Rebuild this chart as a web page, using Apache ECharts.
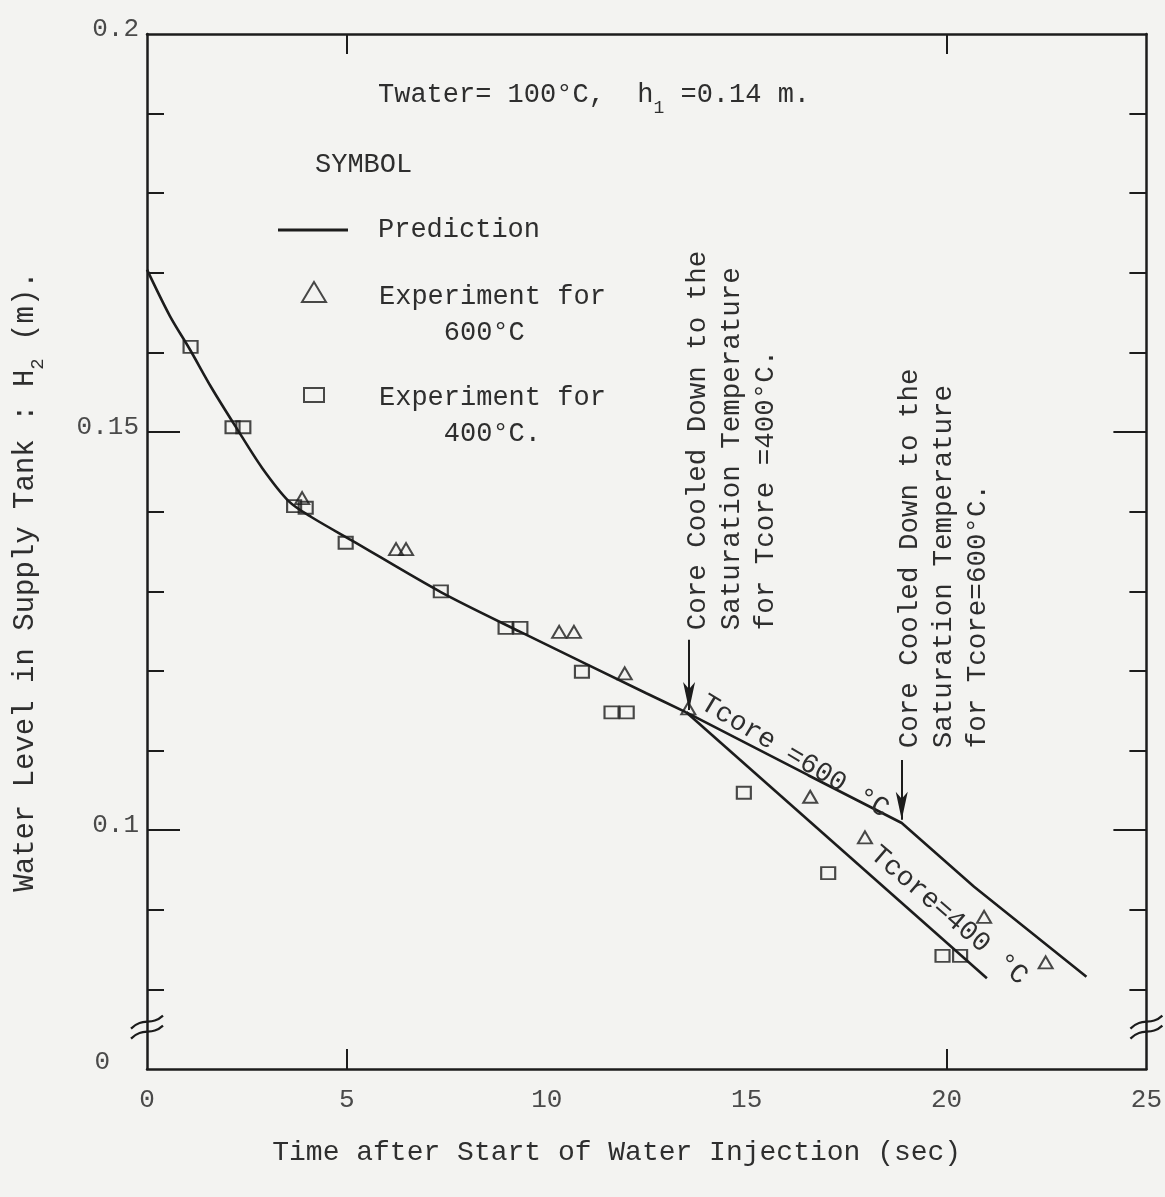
<!DOCTYPE html>
<html>
<head>
<meta charset="utf-8">
<script src="https://cdn.jsdelivr.net/npm/echarts@6/dist/echarts.min.js"></script>
<style>
html,body{margin:0;padding:0;background:#f3f3f1;}
#c{width:1165px;height:1197px;}
</style>
</head>
<body>
<div id="c"></div>
<script>
// ---------- data ----------
const xTickValues = [5, 20];
const yLabelValues = [0.07, 0.1, 0.15, 0.2];
const yLongTicks = [0.1, 0.15];
const yShortTicks = [0.08, 0.09, 0.11, 0.12, 0.13, 0.14, 0.16, 0.17, 0.18, 0.19];

const predictionMain = [[0,0.1704],[0.57,0.1646],[1.07,0.1604],[1.61,0.1556],[2.24,0.1505],[2.88,0.1455],[3.55,0.1413],[4.12,0.1393],[5.12,0.1364],[7.35,0.1299],[9.34,0.1249],[12.49,0.1172],[13.49,0.1148]];
const prediction600 = [[13.49,0.1148],[16.54,0.1069],[18.88,0.1009],[20.69,0.0929],[23.50,0.0816]];
const prediction400 = [[13.49,0.1148],[21.01,0.0814]];

const exp600 = [[3.88,0.1417],[6.23,0.1353],[6.48,0.1353],[10.31,0.1249],[10.68,0.1249],[11.95,0.1197],[13.54,0.1153],[16.59,0.1042],[17.96,0.0991],[20.94,0.0891],[22.48,0.0834]];
const exp400 = [[1.09,0.1607],[2.14,0.1506],[2.41,0.1506],[3.68,0.1407],[3.97,0.1405],[4.97,0.1361],[7.35,0.1300],[8.97,0.1254],[9.34,0.1254],[10.88,0.1199],[11.62,0.1148],[12.00,0.1148],[14.93,0.1047],[17.04,0.0946],[19.90,0.0842],[20.34,0.0842]];

// arrows: [x, yStart, yTip]
const arrows = [[13.56, 0.1239, 0.1151], [18.88, 0.1088, 0.1013]];

// ---------- style ----------
const FONT = '"Liberation Mono","Courier New",monospace';
const INK = '#1c1c1c';
const TXT = '#2e2e2e';
const NUM = '#4a4a4a';
const BG = '#f3f3f1';

const chart = echarts.init(document.getElementById('c'), null, {renderer: 'canvas'});

const mainRich = {
  a: {fontFamily: FONT, fontSize: 27, fontWeight: 'normal', color: TXT, lineHeight: 44},
  s: {fontFamily: FONT, fontSize: 18, fontWeight: 'normal', color: TXT, lineHeight: 18, verticalAlign: 'bottom'}
};
const nameRich = {
  a: {fontFamily: FONT, fontSize: 29, color: TXT, lineHeight: 44},
  s: {fontFamily: FONT, fontSize: 19, color: TXT, lineHeight: 18, verticalAlign: 'bottom'}
};
function legendRich(blank) {
  return {
    e: {fontFamily: FONT, fontSize: 10, lineHeight: blank, color: TXT},
    a: {fontFamily: FONT, fontSize: 27, lineHeight: 36, color: TXT}
  };
}

const axisLineStyle = {color: INK, width: 2.5};

function yAxisBase(pos) {
  return {
    type: 'value', min: 0.07, max: 0.2, position: pos,
    splitLine: {show: false},
    axisLine: {show: true, lineStyle: axisLineStyle},
    axisLabel: {show: false}
  };
}

const option = {
  backgroundColor: BG,
  animation: false,
  textStyle: {fontFamily: FONT},
  grid: {left: 147, right: 12, top: 34, bottom: 128},
  title: [
    {
      text: '{a|Twater= 100°C,  h}{s|1}{a| =0.14 m.}',
      left: 378, top: 73, padding: 0,
      textStyle: {fontWeight: 'normal', rich: mainRich}
    },
    {
      text: 'SYMBOL', left: 315, top: 148, padding: 0,
      textStyle: {fontFamily: FONT, fontSize: 27, fontWeight: 'normal', color: TXT, lineHeight: 34}
    }
  ],
  legend: [
    {
      data: [{name: 'Prediction', icon: 'path://M0,0H70V3H0Z',
              itemStyle: {color: INK, borderWidth: 0}}],
      left: 278, top: 212, padding: 0, itemWidth: 70, itemHeight: 20, selectedMode: false,
      textStyle: {fontFamily: FONT, fontSize: 27, color: TXT, lineHeight: 36, padding: [0, 0, 0, 25]}
    },
    {
      data: [{name: 'Experiment for 600°C', icon: 'path://M12,0L24,20L0,20Z',
              itemStyle: {color: 'transparent', borderColor: INK, borderWidth: 2}}],
      left: 301, top: 251, padding: 0, itemWidth: 70, itemHeight: 20, selectedMode: false,
      formatter: () => '{e| }\n{a|Experiment for}\n{a|    600°C}',
      textStyle: {fontFamily: FONT, fontSize: 27, color: TXT, padding: [0, 0, 0, 25], rich: legendRich(46)}
    },
    {
      data: [{name: 'Experiment for 400°C.', icon: 'path://M0,0H20V14H0Z',
              itemStyle: {color: 'transparent', borderColor: INK, borderWidth: 2}}],
      left: 303, top: 354, padding: 0, itemWidth: 70, itemHeight: 14, selectedMode: false,
      formatter: () => '{e| }\n{a|Experiment for}\n{a|    400°C.}',
      textStyle: {fontFamily: FONT, fontSize: 27, color: TXT, padding: [0, 0, 0, 25], rich: legendRich(42)}
    }
  ],
  xAxis: [
    {
      type: 'value', min: 0, max: 25, interval: 5, position: 'bottom',
      splitLine: {show: false},
      axisLine: {lineStyle: axisLineStyle},
      axisTick: {inside: true, length: 20, customValues: xTickValues, lineStyle: {color: INK, width: 2}},
      axisLabel: {fontFamily: FONT, fontSize: 26, color: NUM, margin: 18},
      name: 'Time after Start of Water Injection (sec)',
      nameLocation: 'middle', nameGap: 67,
      nameTextStyle: {fontFamily: FONT, fontSize: 28, color: TXT, lineHeight: 34, padding: [0, 60, 0, 0]}
    },
    {
      type: 'value', min: 0, max: 25, interval: 5, position: 'top',
      splitLine: {show: false},
      axisLine: {lineStyle: axisLineStyle},
      axisTick: {inside: true, length: 20, customValues: xTickValues, lineStyle: {color: INK, width: 2}},
      axisLabel: {show: false}
    }
  ],
  yAxis: [
    Object.assign(yAxisBase('left'), {
      axisTick: {inside: true, length: 33, customValues: yLongTicks, lineStyle: {color: INK, width: 2}},
      axisLabel: {
        show: true, customValues: yLabelValues, fontFamily: FONT, fontSize: 26, color: NUM, margin: 8,
        formatter: v => (v < 0.075 ? '{z|0}' : '{n|' + String(+v.toFixed(2)) + '}'),
        rich: {
          z: {fontFamily: FONT, fontSize: 26, color: NUM, padding: [0, 29, 14, 0]},
          n: {fontFamily: FONT, fontSize: 26, color: NUM, padding: [0, 0, 10, 0]}
        }
      },
      name: '{a|Water Level in Supply Tank : H}{s|2}{a| (m).}',
      nameLocation: 'middle', nameGap: 100,
      nameTextStyle: {rich: nameRich, padding: [0, 60, 0, 0]}
    }),
    Object.assign(yAxisBase('left'), {
      axisLine: {show: false},
      axisTick: {inside: true, length: 17, customValues: yShortTicks, lineStyle: {color: INK, width: 2}}
    }),
    Object.assign(yAxisBase('right'), {
      axisTick: {inside: true, length: 33, customValues: yLongTicks, lineStyle: {color: INK, width: 2}}
    }),
    Object.assign(yAxisBase('right'), {
      axisLine: {show: false},
      axisTick: {inside: true, length: 17, customValues: yShortTicks, lineStyle: {color: INK, width: 2}}
    })
  ],
  series: [
    {
      name: 'Prediction', type: 'line', data: predictionMain, smooth: 0.3,
      symbol: 'none', lineStyle: {color: INK, width: 2.6}, itemStyle: {color: INK}, z: 2
    },
    {
      name: 'Prediction', type: 'line', data: prediction600,
      symbol: 'none', lineStyle: {color: INK, width: 2.6}, itemStyle: {color: INK}, z: 2
    },
    {
      name: 'Prediction', type: 'line', data: prediction400,
      symbol: 'none', lineStyle: {color: INK, width: 2.6}, itemStyle: {color: INK}, z: 2,
      markLine: {
        silent: true, animation: false,
        label: {show: false},
        lineStyle: {color: INK, width: 2, type: 'solid'},
        symbol: ['none', 'arrow'],
        data: arrows.map(a => [
          {coord: [a[0], a[1]], symbol: 'none'},
          {coord: [a[0], a[2]], symbol: 'arrow', symbolSize: [9, 28]}
        ])
      }
    },
    {
      name: 'Experiment for 600°C', type: 'scatter', data: exp600,
      symbol: 'triangle', symbolSize: [14, 12],
      itemStyle: {color: 'transparent', borderColor: INK, borderWidth: 2}, z: 3
    },
    {
      name: 'Experiment for 400°C.', type: 'scatter', data: exp400,
      symbol: 'rect', symbolSize: [14, 12],
      itemStyle: {color: 'transparent', borderColor: INK, borderWidth: 2}, z: 3
    }
  ]
};

chart.setOption(option);

// ---------- annotations placed through the axes ----------
const P = (x, y) => chart.convertToPixel({xAxisIndex: 0, yAxisIndex: 0}, [x, y]);
const annoFont = {fontFamily: FONT, fontSize: 27.5, fill: TXT, lineHeight: 34};

const g = [];
function vBlock(x, y, text) {
  const p = P(x, y);
  g.push({type: 'text', x: p[0], y: p[1], rotation: Math.PI / 2, z: 10,
    style: Object.assign({text: text, align: 'left', verticalAlign: 'top'}, annoFont)});
}
vBlock(13.34, 0.1251, 'Core Cooled Down to the\nSaturation Temperature\nfor Tcore =400°C.');
vBlock(18.66, 0.1103, 'Core Cooled Down to the\nSaturation Temperature\nfor Tcore=600°C.');

function slant(x, y, rot, text) {
  const p = P(x, y);
  g.push({type: 'text', x: p[0], y: p[1], rotation: rot, z: 10,
    style: Object.assign({text: text, align: 'left', verticalAlign: 'middle'}, annoFont)});
}
slant(13.90, 0.1162, -0.54, 'Tcore =600 °C');
slant(18.18, 0.0974, -0.71, 'Tcore=400 °C');

// axis break marks
function brk(xv, yv) {
  const p = P(xv, yv);
  [-5, 5].forEach(d => {
    g.push({type: 'bezierCurve', z: 11,
      shape: {x1: p[0] - 16, y1: p[1] + d + 6, cpx1: p[0] - 4, cpy1: p[1] + d - 6,
              cpx2: p[0] + 4, cpy2: p[1] + d + 4, x2: p[0] + 16, y2: p[1] + d - 7},
      style: {stroke: INK, lineWidth: 2.2, fill: null}});
  });
}
brk(0, 0.0752);
brk(25, 0.0752);

chart.setOption({graphic: g});
</script>
</body>
</html>
